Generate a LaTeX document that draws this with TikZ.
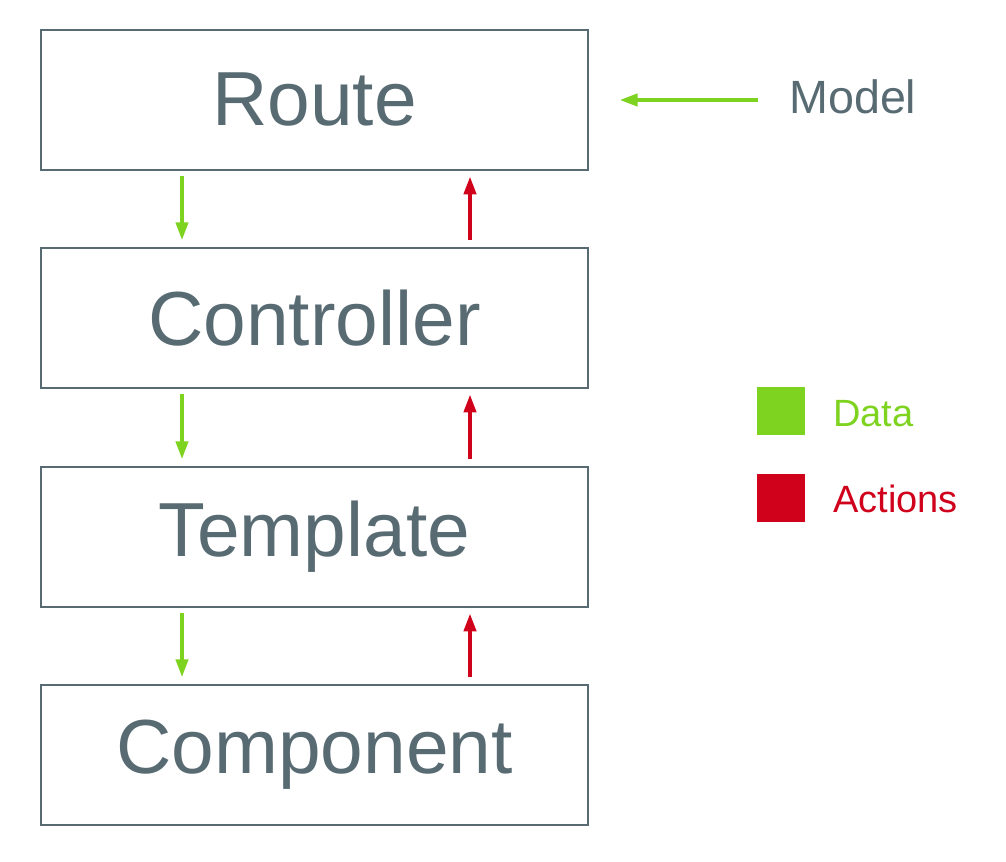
\documentclass[tikz,border=0pt]{standalone}
\usepackage{fontspec}
\setmainfont{Liberation Sans}
\usetikzlibrary{positioning,arrows.meta}
\definecolor{slate}{RGB}{88,107,115}
\definecolor{datagreen}{RGB}{126,211,33}
\definecolor{actionred}{RGB}{208,2,27}
\tikzset{layer/.style={draw=slate,line width=1.5pt,minimum width=410pt,minimum height=105pt,inner sep=0pt,text=slate,font=\fontsize{57.5}{60}\selectfont}}
\tikzset{data/.style={datagreen,line width=3pt,-{Triangle[length=13.5pt,width=9pt]},shorten <=4pt,shorten >=5pt}}
\tikzset{action/.style={actionred,line width=3pt,-{Triangle[length=13.5pt,width=9pt]},shorten <=5pt,shorten >=4pt}}
\tikzset{swatch/.style={minimum size=36pt,inner sep=0pt}}
\tikzset{legend/.style={anchor=base west,inner sep=0pt,font=\fontsize{28.5}{30}\selectfont}}

\begin{document}
\begin{tikzpicture}[x=0.75pt,y=-0.75pt]

	\useasboundingbox (0,0) rectangle (1006,862);

	%% Layers
	\node[layer] (route) at (314.5,100) {Route};
	\node[layer] (ctrl) at (314.5,318) {Controller};
	\node[layer] (tmpl) at (314.5,537) {Template};
	\node[layer] (comp) at (314.5,755) {Component};

	%% Data down, actions up
	\coordinate (dx) at (182,0);
	\coordinate (ax) at (470,0);
	\draw[data] (route.south -| dx) -- (ctrl.north -| dx);
	\draw[data] (ctrl.south -| dx) -- (tmpl.north -| dx);
	\draw[data] (tmpl.south -| dx) -- (comp.north -| dx);
	\draw[action] (ctrl.north -| ax) -- (route.south -| ax);
	\draw[action] (tmpl.north -| ax) -- (ctrl.south -| ax);
	\draw[action] (comp.north -| ax) -- (tmpl.south -| ax);

	%% Model feeds the route
	\node[anchor=base west,inner sep=0pt,text=slate,font=\fontsize{35}{38}\selectfont] (model) at (789,114) {Model};
	\draw[data,shorten <=23pt,shorten >=23pt] (model.west |- route.east) -- (route.east);

	%% Legend
	\node[swatch,fill=datagreen] (datakey) at (781,411.5) {};
	\node[swatch,fill=actionred] (actkey) at (781,498) {};
	\node[legend,text=datagreen] (datalbl) at (833,427) {Data};
	\node[legend,text=actionred] (actlbl) at (833,512) {Actions};

\end{tikzpicture}
\end{document}
